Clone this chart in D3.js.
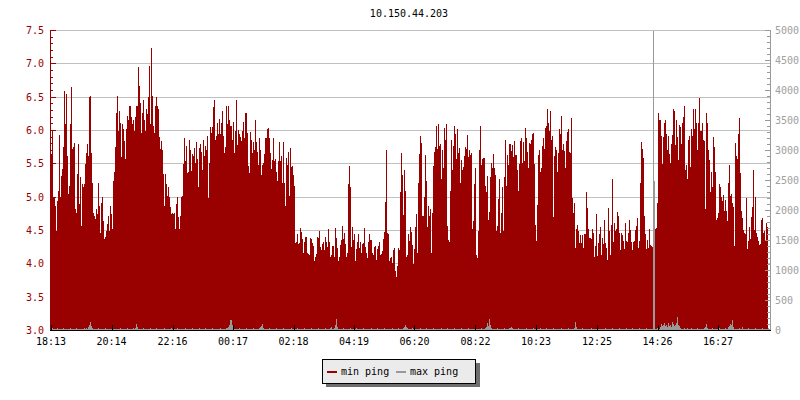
<!DOCTYPE html>
<html>
<head>
<meta charset="utf-8">
<title>10.150.44.203</title>
<script src="https://d3js.org/d3.v7.min.js"></script>
<style>
  body { margin: 0; background: #fff; }
  svg text { font-family: "DejaVu Sans Mono", monospace; font-size: 10px; }
</style>
</head>
<body>
<script>
var title = "10.150.44.203";
var timeLabels = ["18:13", "20:14", "22:16", "00:17", "02:18", "04:19",
                  "06:20", "08:22", "10:23", "12:25", "14:26", "16:27"];
var leftTicks = [3.0, 3.5, 4.0, 4.5, 5.0, 5.5, 6.0, 6.5, 7.0, 7.5];
var rightTicks = [0, 500, 1000, 1500, 2000, 2500, 3000, 3500, 4000, 4500, 5000];
var seriesNames = ["min ping", "max ping"];
var seriesColors = ["#990000", "#999999"];

// min ping, one sample per pixel column, ms
var minPing = [
  5.65, 6.0,
  5.0, 4.98, 4.87, 4.5, 4.95, 5.1, 5.93, 5.0, 5.32, 5.42,
  5.75, 6.59, 6.1, 6.55, 5.61, 5.05, 5.17, 6.1, 6.66, 5.72,
  5.75, 5.82, 4.82, 4.77, 5.35, 5.8, 4.9, 5.3, 4.57, 5.2,
  5.15, 5.2, 5.5, 5.67, 5.8, 5.62, 6.5, 6.52, 5.67, 5.22,
  4.77, 4.72, 4.67, 4.82, 4.75, 5.22, 4.87, 4.47, 4.92, 5.0,
  4.65, 4.37, 4.41, 4.5, 4.6, 4.72, 4.5, 4.87, 4.75, 4.52,
  5.25, 5.37, 5.75, 6.27, 6.52, 6.0, 6.3, 6.12, 5.6, 6.1,
  6.02, 5.85, 5.57, 6.02, 6.22, 6.15, 6.37, 6.37, 6.2, 6.1,
  6.15, 6.0, 6.2, 6.37, 6.37, 6.95, 6.67, 6.42, 5.97, 6.27,
  6.45, 6.15, 6.0, 6.32, 6.25, 6.51, 6.97, 6.1, 7.24, 6.52,
  6.07, 5.97, 6.37, 6.5, 6.37, 6.32, 5.9, 5.72, 5.85, 5.7,
  5.35, 4.87, 5.35, 5.2, 5.02, 5.15, 5.0, 4.85, 4.75, 4.77,
  4.75,
  4.77, 4.52, 4.9, 5.0, 4.7, 4.52, 4.72, 5.0, 5.02, 5.5,
  5.89, 5.55, 5.77, 5.36, 5.38, 5.86, 5.71, 5.39, 5.65, 5.62,
  5.74, 5.52, 5.83, 5.57, 5.16, 5.73, 5.8, 5.68, 5.4, 5.86,
  5.62, 5.77, 5.7, 5.92, 4.98, 5.52, 6.06, 5.96, 6.06, 6.35,
  6.46, 5.86, 5.91, 6.11, 5.94, 6.17, 5.94, 6.12, 6.3, 5.92,
  5.66, 5.75, 6.37, 6.1, 6.37, 6.15, 6.07, 5.86, 6.13, 5.66,
  6.0, 6.46, 5.79, 6.01, 5.94, 5.9, 5.84, 5.99, 6.13, 5.89,
  6.26, 6.26, 5.96, 5.47, 5.36, 5.98, 5.86, 5.66, 5.83, 5.71,
  6.15, 5.83, 5.68, 5.49, 5.89, 5.71, 5.34, 5.49, 5.52, 5.65,
  5.89, 5.89, 6.02, 6.04, 5.89, 5.66, 5.42, 5.56, 5.89, 5.54,
  5.57, 5.37, 5.24, 5.54, 5.83, 5.55, 5.61, 5.21, 5.83, 5.22,
  4.87, 5.59, 5.49, 5.68, 5.02,
  5.74, 5.45, 5.47, 5.34, 5.17, 4.31, 4.33, 4.44, 4.3, 4.31,
  4.54, 4.48, 4.37, 4.16, 4.33, 4.41, 4.4, 4.17, 4.15, 4.13,
  4.39, 4.37, 4.31, 4.27, 4.05, 4.11, 4.15, 4.41, 4.39, 4.5,
  4.25, 4.2, 4.3, 4.33, 4.2, 4.41, 4.33, 4.25, 4.52, 4.33,
  4.1, 4.13, 4.26, 4.27, 4.11, 4.54, 4.39, 4.24, 4.05, 4.11,
  4.29, 4.36, 4.57, 4.37, 4.46, 4.3, 4.11, 4.17, 5.19, 5.47,
  5.15, 4.25, 4.56, 4.36, 4.45, 4.04, 4.22, 4.33, 4.44, 4.23,
  4.33, 4.17, 4.3, 4.31, 4.54, 4.25, 4.16, 4.09, 4.32, 4.45,
  4.36, 4.36, 4.16, 4.14, 4.25, 4.26, 4.06, 4.22, 4.26, 4.32,
  4.14, 4.15, 4.19, 4.37, 4.48, 4.93, 5.71, 4.46, 4.44, 4.05,
  4.09, 4.1, 4.02, 4.21, 4.24, 3.89, 3.8, 3.97, 4.24, 4.21,
  5.08, 5.66, 5.33, 4.73, 5.41, 5.1, 4.1, 4.13, 4.45, 4.35,
  4.56, 4.48, 4.29, 4.0, 4.22,
  4.56, 4.75, 4.17, 5.22, 5.65, 5.91, 5.82, 4.72, 4.72, 5.01,
  5.64, 5.24, 4.55, 4.87, 4.72, 4.82, 4.16, 4.77, 5.47, 5.68,
  5.76, 6.07, 5.72, 6.1, 5.77, 5.8, 5.28, 5.7, 5.44, 6.04,
  5.86, 6.1, 4.57, 4.36, 4.33, 5.1, 5.86, 5.4, 5.77, 6.07,
  5.95, 5.58, 6.02, 5.66, 5.74, 5.21, 5.56, 5.4, 5.46, 5.61,
  5.75, 5.72, 5.93, 5.6, 5.71, 5.64, 5.66, 4.52, 4.65, 5.2,
  5.44, 4.13, 4.09, 4.5, 5.7, 6.07, 5.49, 5.57, 5.59, 5.59,
  5.17, 5.07, 5.32, 4.66, 4.78, 5.31, 5.52, 5.44, 5.65, 5.44,
  5.33, 4.5, 4.57, 4.97, 5.27, 4.46, 4.76, 5.16, 4.49, 5.31,
  5.86, 5.17, 5.63, 5.49, 5.8, 5.8, 5.69, 5.79, 5.6, 5.85,
  5.63, 5.64, 5.41, 5.09, 5.5, 5.85, 5.89, 5.52, 5.83, 5.54,
  6.04, 5.89, 5.68, 5.44, 5.82,
  5.8, 5.86, 5.95, 5.96, 5.5, 4.59, 4.35, 4.89, 5.63, 5.71,
  5.38, 5.44, 5.77, 5.89, 5.72, 6.04, 6.07, 6.32, 6.12, 5.99,
  6.3, 5.86, 5.91, 4.7, 5.61, 5.76, 5.71, 5.38, 5.66, 6.03,
  5.95, 6.22, 5.71, 5.8, 5.69, 5.44, 5.85, 5.98, 6.02, 5.68,
  5.67, 6.19, 4.99, 4.77, 4.91, 4.23, 4.52, 4.59, 4.5, 4.31,
  4.43, 4.31, 4.43, 4.23, 4.45, 4.44, 5.07, 4.84, 4.52, 4.39,
  4.37, 4.52, 4.46, 4.1, 4.27, 4.75, 4.12, 4.31, 4.45, 4.56,
  4.13, 4.39, 4.3, 4.66, 4.31, 4.24, 4.06, 4.84, 4.5, 4.13,
  4.59, 5.28, 4.33, 4.61, 4.49, 4.52, 4.78, 4.72, 4.47, 4.2,
  4.47, 4.43, 4.35, 4.22, 4.61, 4.34, 4.33, 4.47, 4.66, 4.51,
  4.32, 4.2, 4.33, 4.35, 4.51, 4.57, 4.69, 4.24, 4.35, 5.22,
  5.83, 5.72, 5.59, 4.72, 4.45, 4.22, 4.36, 4.23, 4.52, 4.29,
  4.26, 4.25,
  null, null, 4.56, 4.45, 4.52, 4.54, 4.91, 6.27, 6.15, 6.16,
  5.92, 5.5, 5.9, 6.12, 6.16, 5.95, 5.7, 5.92, 5.65, 5.52,
  5.8, 5.93, 6.32, 6.29, 5.78, 6.16, 5.9, 5.56, 6.09, 6.06,
  5.8, 6.12, 6.21, 6.37, 5.41, 5.49, 5.28, 5.86, 5.92, 5.46,
  6.03, 5.92, 6.32, 6.03, 6.32, 6.12, 5.71, 6.12, 6.49, 5.99,
  6.0, 6.12, 5.86, 5.85, 4.82, 6.27, 6.12, 5.7, 5.56, 5.07,
  5.38, 5.16, 5.9, 5.76, 5.38, 4.66, 4.69, 4.76, 5.19, 5.16,
  5.01, 4.94, 5.04, 4.79, 4.96, 4.79, 4.65, 5.21, 5.49, 5.02,
  5.05, 4.92, 4.85, 4.26, 5.82, 5.61, 5.57, 5.95, 6.19, 5.36,
  4.79, 4.69, 4.51, 4.47, 4.45, 4.99, 4.22, 4.35, 4.55, 4.37,
  4.71, 4.85, 5.41, 4.51, 5.0, 4.47, 4.4, 4.35, 4.29, 4.3,
  4.66, 4.69, 4.46, 4.49, 4.34, 4.61, 4.55
];

// max ping, same samples, right axis (ms)
var maxPing = [
  30,40,30,20,30,30,40,30,30,20, 30,30,40,30,30,30,20,30,30,40, 30,30,30,20,30,40,30,30,30,30, 20,30,30,40,30,50,30,60,90,140, 80,40,30,30,20,30,30,40,30,30,
  30,20,30,30,40,30,30,30,20,30, 30,40,30,30,30,20,30,30,30,40, 30,30,20,30,30,30,40,30,30,20, 30,30,40,30,50,110,60,30,30,20, 30,30,40,30,30,20,30,30,30,40,
  30,30,20,30,30,40,30,30,30,20, 30,30,30,40,30,20,30,30,30,30, 40,30,30,20,30,30,40,30,30,30, 20,30,30,30,40,30,30,20,30,30, 30,40,30,30,20,30,30,30,40,30,
  30,20,30,30,40,30,30,30,20,30, 30,40,30,30,30,20,30,30,30,40, 30,30,20,30,30,40,50,60,90,167, 90,40,30,30,20,30,30,40,30,30, 30,20,30,30,40,30,30,30,20,30,
  30,40,30,30,20,30,30,40,60,80, 110,50,30,30,20,30,30,40,30,30, 30,20,30,30,40,30,30,30,20,30, 30,40,30,30,30,20,30,30,30,40, 30,30,20,30,30,40,30,30,30,20,
  30,30,40,30,30,20,30,30,30,40, 30,30,20,30,30,30,40,30,30,20, 30,30,30,40,30,30,20,30,40,60, 30,30,40,90,184,60,30,30,20,30, 30,40,30,30,30,20,30,30,40,30,
  30,20,30,30,40,30,30,30,20,30, 30,40,30,30,30,20,30,30,30,40, 30,30,20,30,30,40,30,30,30,20, 30,30,40,30,30,30,20,30,30,30, 40,30,30,20,30,30,40,30,30,30,
  30,40,60,85,60,40,30,20,30,30, 40,30,30,30,20,30,30,30,40,30, 30,20,30,30,40,30,30,30,20,30, 30,40,30,30,30,20,30,30,30,40, 30,30,20,30,30,40,30,30,30,20,
  30,30,40,30,30,20,30,30,30,40, 30,30,20,30,30,30,40,30,30,20, 30,30,30,40,30,30,20,30,30,40, 30,30,30,40,60,120,80,184,90,50, 30,30,20,30,30,40,30,30,30,20,
  30,30,40,30,30,20,30,40,50,60, 40,30,30,20,30,30,40,30,30,30, 20,30,30,30,40,30,30,20,30,30, 30,40,30,30,20,30,30,30,40,30, 30,20,30,30,40,30,30,30,20,30,
  30,40,30,30,30,20,30,30,30,40, 30,30,20,30,30,30,40,30,30,20, 30,30,40,150,60,30,30,20,30,30, 40,30,30,30,20,30,30,30,40,30, 30,20,30,30,40,30,30,30,20,30,
  30,30,40,30,30,20,30,30,30,40, 30,30,20,30,30,30,40,30,30,20, 30,30,30,40,30,30,20,30,30,40, 30,30,30,20,30,30,40,30,30,30, 20,30,30,40,30,30,30,20,30,30,
  5000,2500,30,30,40,30,20,60,110,80, 90,130,70,100,60,120,80,90,60,140, 110,70,100,130,223,90,80,40,30,20, 30,40,30,30,50,30,20,30,40,30, 30,20,30,30,40,30,30,30,20,30,
  30,40,60,110,50,30,20,30,30,40, 30,30,20,30,30,30,40,30,30,20, 30,30,40,30,30,60,80,110,90,167, 60,30,30,20,30,30,40,30,30,60, 30,30,20,30,30,40,30,30,30,20,
  30,30,40,30,30,20,30,30,30,40, 30,30,20,30,30,40,30
];

var width = 800;
var height = 400;
var plotLeft = 51, plotRight = 770, plotTop = 30.5, plotBottom = 330.5;

var svg = d3.select("body")
    .append("svg")
    .attr("width", width)
    .attr("height", height);

var n = minPing.length;
var x = d3.scaleLinear().domain([0, n]).range([plotLeft, plotRight]);
var yL = d3.scaleLinear().domain([3, 7.5]).range([plotBottom, plotTop]);
var yR = d3.scaleLinear().domain([0, 5000]).range([plotBottom, plotTop]);

function toMinutes(s) {
  var p = s.split(":");
  var m = (+p[0]) * 60 + (+p[1]) - (18 * 60 + 13);
  return m < 0 ? m + 1440 : m;
}
var xTime = d3.scaleLinear().domain([0, 1438]).range([plotLeft, plotRight]);

function gy(scale, d) { return Math.round(scale(d) - 0.5) + 0.5; }

// title
svg.append("text")
    .attr("x", 409)
    .attr("y", 17)
    .attr("text-anchor", "middle")
    .attr("fill", "#000")
    .text(title);

// grid
svg.append("g").attr("shape-rendering", "crispEdges")
    .selectAll("line")
    .data(leftTicks.slice(1))
    .enter().append("line")
    .attr("x1", plotLeft).attr("x2", plotRight)
    .attr("y1", function(d) { return gy(yL, d); })
    .attr("y2", function(d) { return gy(yL, d); })
    .attr("stroke", "#c0c0c0");

// min ping
svg.append("g")
    .attr("shape-rendering", "crispEdges")
    .selectAll("rect")
    .data(minPing)
    .enter().append("rect")
    .filter(function(d) { return d != null; })
    .attr("x", function(d, i) { return Math.round(x(i)); })
    .attr("width", function(d, i) { return Math.round(x(i + 1)) - Math.round(x(i)); })
    .attr("y", function(d) { return Math.round(yL(d)); })
    .attr("height", function(d) { return 330 - Math.round(yL(d)); })
    .attr("fill", seriesColors[0]);

// max ping
svg.append("g")
    .attr("shape-rendering", "crispEdges")
    .selectAll("rect")
    .data(maxPing)
    .enter().append("rect")
    .attr("x", function(d, i) { return Math.round(x(i)); })
    .attr("width", function(d, i) { return Math.round(x(i + 1)) - Math.round(x(i)); })
    .attr("y", function(d) { return Math.round(yR(d)); })
    .attr("height", function(d) { return 330 - Math.round(yR(d)); })
    .attr("fill", seriesColors[1]);

// left axis
var leftAxis = svg.append("g").attr("shape-rendering", "crispEdges");
leftAxis.append("line")
    .attr("x1", 50.5).attr("x2", 50.5)
    .attr("y1", 30).attr("y2", 331)
    .attr("stroke", "#990000");
leftAxis.selectAll("line.tk")
    .data(d3.range(30, 76).map(function(d) { return d / 10; }))
    .enter().append("line")
    .attr("class", "tk")
    .attr("x1", 51)
    .attr("x2", function(d) { return Math.abs(d * 2 - Math.round(d * 2)) < 1e-6 ? 56 : 53; })
    .attr("y1", function(d) { return gy(yL, d); })
    .attr("y2", function(d) { return gy(yL, d); })
    .attr("stroke", "#990000");
leftAxis.selectAll("text")
    .data(leftTicks)
    .enter().append("text")
    .attr("x", 44)
    .attr("y", function(d) { return yL(d); })
    .attr("dy", "0.35em")
    .attr("text-anchor", "end")
    .attr("fill", "#990000")
    .text(function(d) { return d3.format(".1f")(d); });

// right axis
var rightAxis = svg.append("g").attr("shape-rendering", "crispEdges");
rightAxis.append("line")
    .attr("x1", 770.5).attr("x2", 770.5)
    .attr("y1", 30).attr("y2", 331)
    .attr("stroke", "#999999");
rightAxis.selectAll("line.tk")
    .data(d3.range(0, 5001, 100))
    .enter().append("line")
    .attr("class", "tk")
    .attr("x1", function(d) { return d % 500 === 0 ? 765 : 767; })
    .attr("x2", 770)
    .attr("y1", function(d) { return gy(yR, d); })
    .attr("y2", function(d) { return gy(yR, d); })
    .attr("stroke", "#999999");
rightAxis.selectAll("text")
    .data(rightTicks)
    .enter().append("text")
    .attr("x", 775)
    .attr("y", function(d) { return yR(d); })
    .attr("dy", "0.35em")
    .attr("fill", "#a0a0a0")
    .text(function(d) { return d; });

// bottom axis
var bottomAxis = svg.append("g").attr("shape-rendering", "crispEdges");
bottomAxis.append("line")
    .attr("x1", 50).attr("x2", 771)
    .attr("y1", 330.5).attr("y2", 330.5)
    .attr("stroke", "#000");
bottomAxis.selectAll("line.tk")
    .data(timeLabels)
    .enter().append("line")
    .attr("class", "tk")
    .attr("x1", function(d) { return Math.round(xTime(toMinutes(d))) + 0.5; })
    .attr("x2", function(d) { return Math.round(xTime(toMinutes(d))) + 0.5; })
    .attr("y1", 325).attr("y2", 330)
    .attr("stroke", "#000");
bottomAxis.selectAll("text")
    .data(timeLabels)
    .enter().append("text")
    .attr("x", function(d) { return xTime(toMinutes(d)); })
    .attr("y", 345)
    .attr("text-anchor", "middle")
    .attr("fill", "#000")
    .text(function(d) { return d; });

// legend
var legend = svg.append("g").attr("shape-rendering", "crispEdges");
legend.append("rect")
    .attr("x", 326).attr("y", 363)
    .attr("width", 154).attr("height", 24)
    .attr("fill", "#6e6e6e");
legend.append("rect")
    .attr("x", 322.5).attr("y", 359.5)
    .attr("width", 153).attr("height", 24)
    .attr("fill", "#ebebeb")
    .attr("stroke", "#000");
var items = [{ x: 327, tx: 341 }, { x: 396, tx: 410 }];
items.forEach(function(it, i) {
  legend.append("rect")
      .attr("x", it.x).attr("y", 371)
      .attr("width", 10).attr("height", 2)
      .attr("fill", seriesColors[i]);
  legend.append("text")
      .attr("x", it.tx).attr("y", 375)
      .attr("fill", "#000")
      .text(seriesNames[i]);
});
</script>
</body>
</html>
